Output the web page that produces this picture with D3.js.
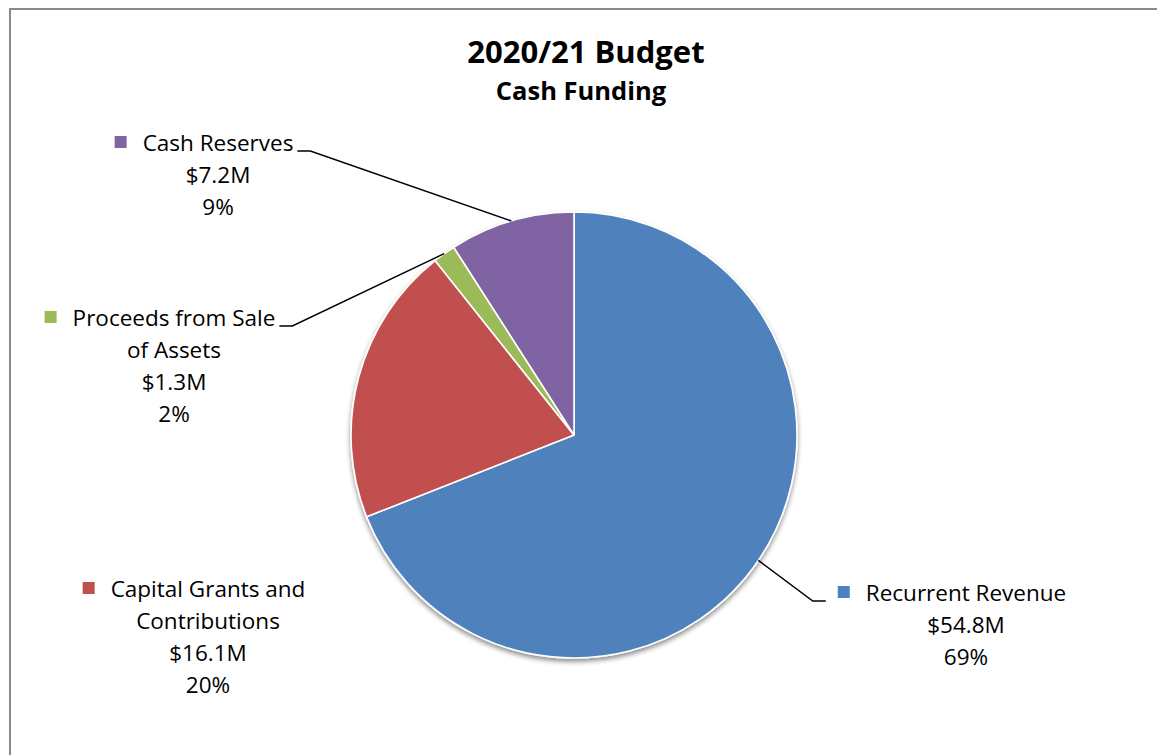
<!DOCTYPE html>
<html>
<head>
<meta charset="utf-8">
<script src="https://cdn.jsdelivr.net/npm/d3@7"></script>
<style>
  html, body { margin: 0; padding: 0; background: #fff; }
  svg { display: block; }
  text { font-family: "Open Sans", Lato, sans-serif; fill: #000; }
</style>
</head>
<body>
<svg id="chart" width="1157" height="755"></svg>
<script>
// Funding sources (in $ millions), clockwise from 12 o'clock
const categories = ["Recurrent Revenue", "Capital Grants and Contributions", "Proceeds from Sale of Assets", "Cash Reserves"];
const values = [54.8, 16.1, 1.3, 7.2];
const colors = ["#4F81BD", "#C0504D", "#9BBB59", "#8064A2"];
const labelLines = [
  ["Recurrent Revenue"],
  ["Capital Grants and", "Contributions"],
  ["Proceeds from Sale", "of Assets"],
  ["Cash Reserves"]
];
const titleText = "2020/21 Budget";
const subtitleText = "Cash Funding";

// Label layout: centre x and first baseline y of each text block,
// plus whether a leader line is drawn and which side it attaches to
const labelLayout = [
  { cx: 966, y: 601, leader: true,  side: "left" },
  { cx: 208, y: 597, leader: false },
  { cx: 174, y: 326, leader: true,  side: "right" },
  { cx: 218, y: 151, leader: true,  side: "right" }
];

const W = 1157, H = 755;
const cx = 574, cy = 435, R = 223;
const lineH = 32;
const fontSize = 22.5;

const svg = d3.select("#chart");

// outer chart frame
svg.append("rect")
  .attr("x", 10).attr("y", 9)
  .attr("width", W + 20).attr("height", H + 20)
  .attr("fill", "none")
  .attr("stroke", "#8a8a8a")
  .attr("stroke-width", 2);

// soft shadow under the pie
const defs = svg.append("defs");
const f = defs.append("filter").attr("id", "shadow")
  .attr("x", "-10%").attr("y", "-10%").attr("width", "120%").attr("height", "125%");
f.append("feGaussianBlur").attr("in", "SourceAlpha").attr("stdDeviation", 2.5).attr("result", "b");
f.append("feOffset").attr("in", "b").attr("dx", 0).attr("dy", 3).attr("result", "o");
f.append("feComponentTransfer").attr("in", "o").attr("result", "s")
  .append("feFuncA").attr("type", "linear").attr("slope", 0.45);
const m = f.append("feMerge");
m.append("feMergeNode").attr("in", "s");
m.append("feMergeNode").attr("in", "SourceGraphic");

// titles
svg.append("text")
  .attr("x", 586).attr("y", 63)
  .attr("text-anchor", "middle")
  .attr("font-weight", 700)
  .attr("font-size", 31)
  .text(titleText);
svg.append("text")
  .attr("x", 581).attr("y", 100)
  .attr("text-anchor", "middle")
  .attr("font-weight", 700)
  .attr("font-size", 25.5)
  .text(subtitleText);

const total = d3.sum(values);
const pct = d3.format(".0%");
const money = v => "$" + d3.format(".1f")(v) + "M";

const pie = d3.pie().sort(null).value(d => d)(values);
const arc = d3.arc().innerRadius(0).outerRadius(R);

const g = svg.append("g").attr("transform", `translate(${cx},${cy})`);
const pieG = g.append("g").attr("filter", "url(#shadow)");
pieG.selectAll("path")
  .data(pie)
  .join("path")
  .attr("d", arc)
  .attr("fill", (d, i) => colors[i])
  .attr("stroke", "#fff")
  .attr("stroke-width", 1.6)
  .attr("stroke-linejoin", "round");

// labels
const labels = svg.append("g");
pie.forEach((d, i) => {
  const L = labelLayout[i];
  const lines = labelLines[i].concat([money(values[i]), pct(values[i] / total)]);
  const t = labels.append("text")
    .attr("text-anchor", "middle")
    .attr("font-size", fontSize);
  lines.forEach((s, k) => {
    t.append("tspan").attr("x", L.cx).attr("y", L.y + k * lineH).text(s);
  });
  // legend key square beside the first line
  const first = t.select("tspan").node();
  const w = first.getComputedTextLength();
  const left = L.cx - w / 2, right = L.cx + w / 2;
  labels.append("rect")
    .attr("x", left - 28).attr("y", L.y - 15)
    .attr("width", 12).attr("height", 12)
    .attr("fill", colors[i]);

  if (L.leader) {
    const mid = (d.startAngle + d.endAngle) / 2;
    const px = cx + R * Math.sin(mid), py = cy - R * Math.cos(mid);
    const ly = L.y;
    let pts;
    if (L.side === "right") {
      pts = [[right + 4, ly], [right + 17, ly], [px, py]];
    } else {
      pts = [[left - 40, ly], [left - 53, ly], [px, py]];
    }
    labels.append("path")
      .attr("d", d3.line()(pts))
      .attr("fill", "none")
      .attr("stroke", "#000")
      .attr("stroke-width", 1.5);
  }
});
</script>
</body>
</html>
